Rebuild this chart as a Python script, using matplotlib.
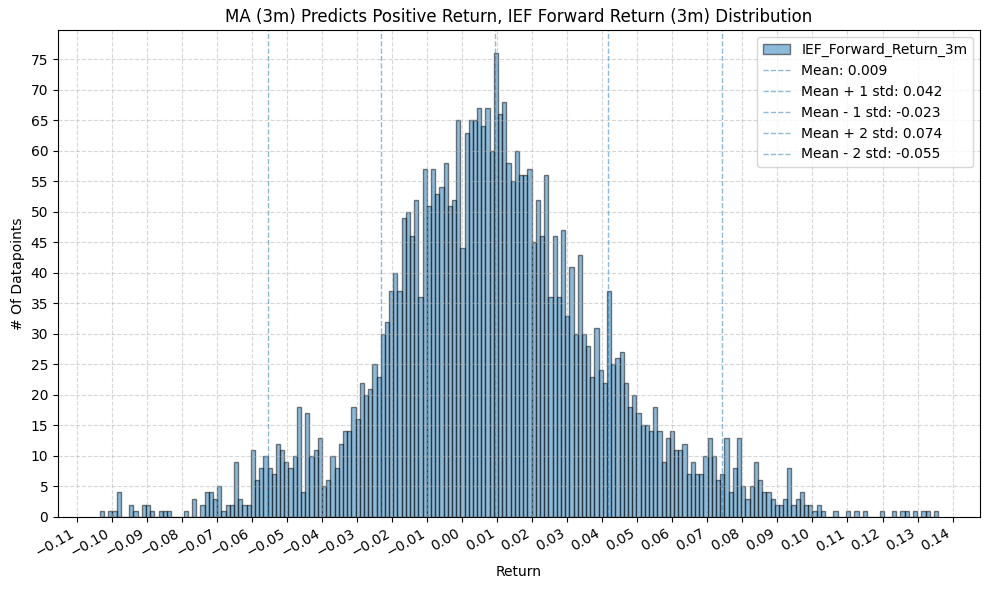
import numpy as np
import matplotlib
matplotlib.use("Agg")
from matplotlib import pyplot as plt
from matplotlib.ticker import MultipleLocator

# histogram counts, 200 equal bins between return_min and return_max
return_min = -0.1035
return_max = 0.1359
counts = [
    1, 0, 1, 1, 4, 0, 0, 2, 1, 0,
    2, 2, 1, 0, 1, 1, 1, 0, 0, 0,
    1, 0, 3, 0, 2, 4, 4, 3, 5, 1,
    2, 2, 9, 3, 2, 2, 11, 6, 8, 10,
    8, 7, 12, 11, 9, 8, 10, 18, 4, 17,
    10, 11, 13, 5, 6, 10, 8, 12, 14, 14,
    18, 16, 22, 20, 21, 25, 23, 30, 32, 37,
    40, 37, 49, 50, 46, 52, 36, 57, 51, 57,
    53, 54, 58, 51, 52, 65, 44, 63, 65, 65,
    67, 64, 67, 60, 76, 66, 68, 58, 55, 60,
    56, 56, 57, 45, 52, 46, 56, 36, 46, 36,
    47, 33, 41, 30, 43, 30, 28, 23, 31, 24,
    22, 37, 25, 26, 27, 22, 18, 20, 17, 15,
    15, 14, 18, 14, 9, 13, 14, 11, 11, 12,
    7, 9, 7, 7, 10, 13, 10, 6, 7, 13,
    4, 8, 13, 5, 3, 5, 9, 6, 4, 4,
    3, 2, 2, 3, 8, 2, 3, 4, 2, 2,
    1, 2, 1, 0, 0, 1, 0, 0, 1, 0,
    1, 0, 1, 0, 0, 0, 1, 0, 0, 1,
    0, 1, 1, 0, 1, 0, 1, 1, 0, 1,
]

line_values = [0.0093, 0.0417, -0.0231, 0.0741, -0.0555]
line_labels = ["Mean: 0.009", "Mean + 1 std: 0.042", "Mean - 1 std: -0.023",
               "Mean + 2 std: 0.074", "Mean - 2 std: -0.055"]

edges = np.linspace(return_min, return_max, len(counts) + 1)

fig, ax = plt.subplots(figsize=(9.89, 5.9), dpi=100)
ax.hist(edges[:-1], bins=edges, weights=counts, color="C0", alpha=0.5,
        edgecolor="black", label="IEF_Forward_Return_3m")

for val, lab in zip(line_values, line_labels):
    ax.axvline(val, color="C0", linestyle="--", linewidth=1, alpha=0.5, label=lab)

ax.set_title("MA (3m) Predicts Positive Return, IEF Forward Return (3m) Distribution")
ax.set_xlabel("Return")
ax.set_ylabel("# Of Datapoints")
ax.xaxis.set_major_locator(MultipleLocator(0.01))
ax.yaxis.set_major_locator(MultipleLocator(5))
ax.grid(True, linestyle="--", alpha=0.5)
ax.legend(loc="upper right")
plt.setp(ax.get_xticklabels(), rotation=30, ha="right")

plt.subplots_adjust(left=0.0586, right=0.991, top=0.949, bottom=0.124)
plt.savefig("out.png")
